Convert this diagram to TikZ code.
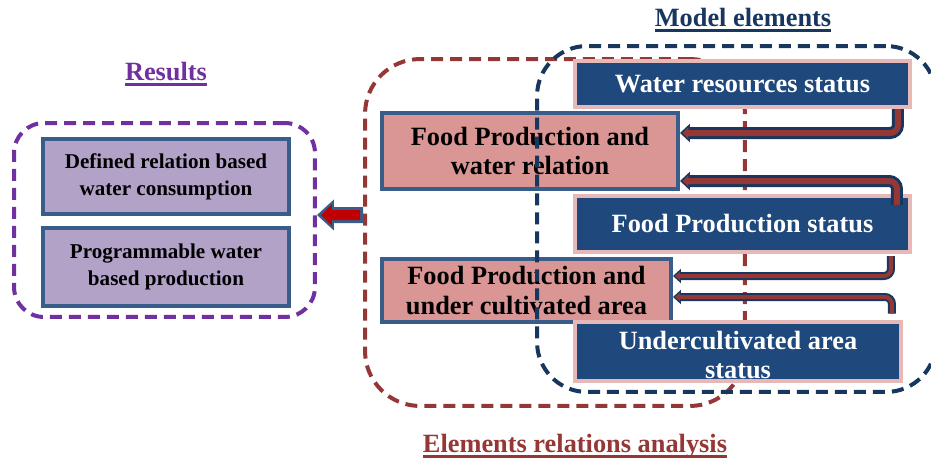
\documentclass[tikz,border=0pt]{standalone}
\usepackage{fontspec}
\setmainfont{Liberation Serif}
\usetikzlibrary{arrows.meta}

\definecolor{statusblue}{HTML}{1F497D}
\definecolor{statuspink}{HTML}{E6B9B8}
\definecolor{relpink}{HTML}{D99694}
\definecolor{reslilac}{HTML}{B3A2C7}
\definecolor{steelline}{HTML}{385D8A}
\definecolor{brickred}{HTML}{953735}
\definecolor{navyline}{HTML}{17375E}
\definecolor{plum}{HTML}{7030A0}
\definecolor{arrowred}{HTML}{C00000}

\newcommand\titleline[1]{\setbox0\hbox{#1}\leavevmode\rlap{\rule[-3.5pt]{\wd0}{1.6pt}}\box0}

\tikzset{
  statusbox/.style={draw=statuspink, fill=statusblue, line width=0.08cm, text=white,
    font=\bfseries\fontsize{15}{17}\selectfont, align=center, inner sep=0pt},
  relbox/.style={draw=steelline, fill=relpink, line width=0.08cm,
    font=\bfseries\fontsize{15}{17}\selectfont, align=center, inner sep=0pt},
  resbox/.style={draw=steelline, fill=reslilac, line width=0.09cm,
    font=\bfseries\fontsize{12}{15.5}\selectfont, align=center, inner sep=0pt},
  group/.style={dash pattern=on 0.24cm off 0.14cm, line width=0.08cm,
    rounded corners=1.1cm, inner sep=0pt},
  grouptitle/.style={font=\bfseries\fontsize{15}{18}\selectfont},
  relarrow/.style={draw=brickred, line width=0.12cm, rounded corners=0.16cm,
    -{Triangle[length=0.12cm,width=0.22cm]}, shorten >=0.05cm,
    preaction={draw=navyline, line width=0.24cm,
      -{Triangle[length=0.2cm,width=0.36cm]}, shorten >=0pt}},
  relarrowthin/.style={draw=brickred, line width=0.08cm, rounded corners=0.14cm,
    -{Triangle[length=0.1cm,width=0.16cm]}, shorten >=0.04cm,
    preaction={draw=navyline, line width=0.16cm,
      -{Triangle[length=0.16cm,width=0.28cm]}, shorten >=0pt}},
  bigarrow/.style={draw=arrowred, line width=0.2cm,
    -{Triangle[length=0.22cm,width=0.42cm]}, shorten >=0.08cm, shorten <=0.06cm,
    preaction={draw=steelline, line width=0.32cm,
      -{Triangle[length=0.34cm,width=0.6cm]}, shorten >=0pt, shorten <=0pt}}
}

\begin{document}
\begin{tikzpicture}[x=0.02cm, y=-0.02cm]
  \useasboundingbox (0,0) rectangle (931,461);

  % elements relations analysis
  \node[group, draw=brickred, minimum width=7.6cm, minimum height=6.94cm] (relgroup) at (555,232.5) {};
  \node[relbox, minimum width=5.92cm, minimum height=1.52cm] (fpwater) at (530,151) {Food Production and\\water relation};
  \node[relbox, minimum width=5.78cm, minimum height=1.26cm] (fpland) at (526.5,290.5) {Food Production and\\under cultivated area};

  % model elements
  \node[group, draw=navyline, rounded corners=1.0cm, minimum width=7.98cm, minimum height=6.92cm] (modelgroup) at (736.5,219) {};
  \node[statusbox, minimum width=6.7cm, minimum height=0.92cm] (water) at (742.5,84) {Water resources status};
  \node[statusbox, minimum width=6.7cm, minimum height=1.12cm] (fpstatus) at (742.5,224) {Food Production status};
  \node[statusbox, minimum width=6.52cm, minimum height=1.18cm] (landstatus) at (738,351.5)
    {\raisebox{-0.13cm}[\height][\depth]{\begin{tabular}{@{}c@{}}Undercultivated area\\status\end{tabular}}};

  % status to relation
  \draw[relarrow] ([xshift=-0.28cm]water.south east) |- ([yshift=0.36cm]fpwater.east);
  \draw[relarrow] ([xshift=-0.3cm,yshift=-0.22cm]fpstatus.north east) |- ([yshift=-0.6cm]fpwater.east);
  \draw[relarrowthin] ([xshift=-0.42cm,yshift=-0.04cm]fpstatus.south east) |- ([yshift=0.29cm]fpland.east);
  \draw[relarrowthin] ([xshift=-0.22cm,yshift=0.12cm]landstatus.north east) |- ([yshift=-0.13cm]fpland.east);

  % results
  \node[group, draw=plum, rounded corners=0.6cm, minimum width=6.02cm, minimum height=3.88cm] (resgroup) at (164.5,220) {};
  \node[resbox, minimum width=4.92cm, minimum height=1.5cm] (relbased) at (166,176.5) {Defined relation based\\water consumption};
  \node[resbox, minimum width=4.92cm, minimum height=1.56cm] (progbased) at (166,267) {Programmable water\\based production};

  \draw[bigarrow] ([yshift=0.35cm]relgroup.west) -- ([yshift=0.1cm]resgroup.east);

  % titles
  \node[grouptitle, text=navyline] (modeltitle) at (743,20) {\titleline{Model elements}};
  \node[grouptitle, text=plum] (restitle) at (166,74) {\titleline{Results}};
  \node[grouptitle, text=brickred] (reltitle) at (575,446) {\titleline{Elements relations analysis}};
\end{tikzpicture}
\end{document}
